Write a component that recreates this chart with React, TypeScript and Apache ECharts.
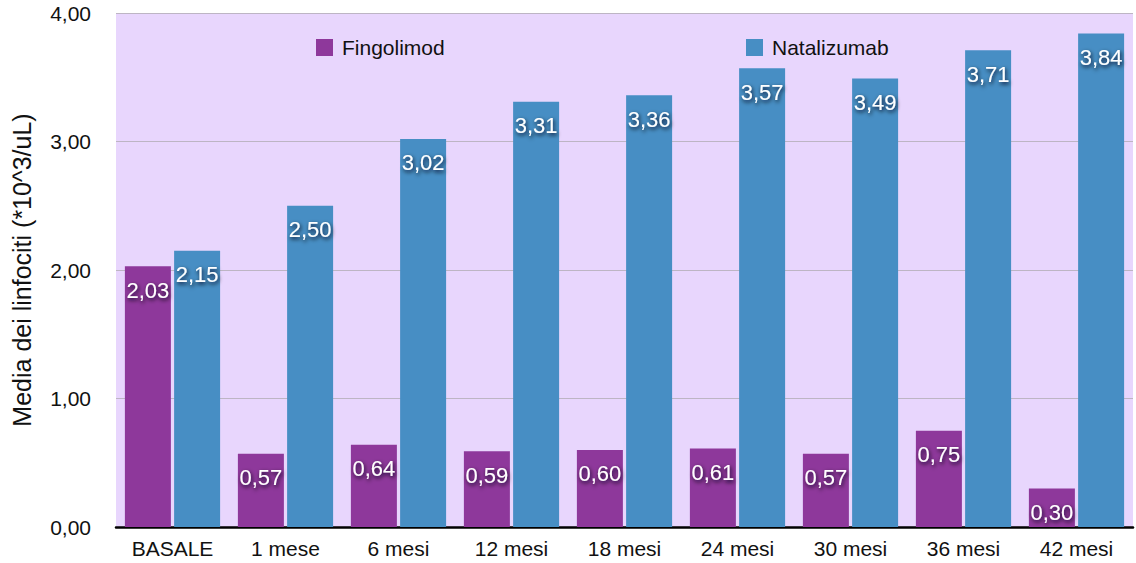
import React, { useEffect, useRef } from "react";
import * as echarts from "echarts";

const categories = ["BASALE", "1 mese", "6 mesi", "12 mesi", "18 mesi", "24 mesi", "30 mesi", "36 mesi", "42 mesi"];
const fingolimod = [2.03, 0.57, 0.64, 0.59, 0.6, 0.61, 0.57, 0.75, 0.3];
const natalizumab = [2.15, 2.5, 3.02, 3.31, 3.36, 3.57, 3.49, 3.71, 3.84];
const yTicks = { min: 0, max: 4, interval: 1 };

const FONT = "'Liberation Sans', Arial, Helvetica, sans-serif";
const fmt = (v: number) => v.toFixed(2).replace(".", ",");

const valueLabel = {
  show: true,
  position: "insideTop" as const,
  distance: 13,
  color: "#ffffff",
  fontFamily: FONT,
  fontSize: 22,
  textShadowColor: "rgba(15,5,25,0.95)",
  textShadowBlur: 4,
  textShadowOffsetX: 1,
  textShadowOffsetY: 2,
  formatter: (p: any) => fmt(p.value),
};

const legendText = { fontSize: 21, color: "#111", fontFamily: FONT, padding: [0, 0, 0, 4] };

export default function App() {
  const ref = useRef<HTMLDivElement>(null);
  useEffect(() => {
    if (!ref.current) return;
    const chart = echarts.init(ref.current, null, { renderer: "svg" });
    chart.setOption({
      animation: false,
      backgroundColor: "#ffffff",
      textStyle: { fontFamily: FONT },
      grid: {
        left: 116,
        right: 3,
        top: 13,
        bottom: 36,
        show: true,
        backgroundColor: "#e8d6fd",
        borderWidth: 0,
      },
      legend: [
        {
          data: ["Fingolimod"],
          left: 311,
          top: 32,
          itemWidth: 17,
          itemHeight: 17,
          icon: "rect",
          textStyle: legendText,
        },
        {
          data: ["Natalizumab"],
          left: 741,
          top: 32,
          itemWidth: 17,
          itemHeight: 17,
          icon: "rect",
          textStyle: legendText,
        },
      ],
      xAxis: {
        type: "category",
        data: categories,
        axisLine: { lineStyle: { color: "#000", width: 2.5 } },
        axisTick: { show: false },
        axisLabel: { fontSize: 21, color: "#111", margin: 11, fontFamily: FONT },
      },
      yAxis: {
        type: "value",
        min: yTicks.min,
        max: yTicks.max,
        interval: yTicks.interval,
        name: "Media dei linfociti (*10^3/uL)",
        nameLocation: "middle",
        nameGap: 82,
        nameTextStyle: { fontSize: 25, color: "#111", fontFamily: FONT },
        axisLine: { show: false },
        axisTick: { show: false },
        axisLabel: {
          fontSize: 21,
          color: "#111",
          margin: 25,
          fontFamily: FONT,
          formatter: (v: number) => fmt(v),
        },
        splitLine: { lineStyle: { color: "#bdb5c4", width: 1 } },
      },
      series: [
        {
          name: "Fingolimod",
          type: "bar",
          data: fingolimod,
          barWidth: 46,
          barGap: "7%",
          itemStyle: { color: "#8e389b" },
          label: valueLabel,
        },
        {
          name: "Natalizumab",
          type: "bar",
          data: natalizumab,
          barWidth: 46,
          itemStyle: { color: "#478ec4" },
          label: valueLabel,
        },
      ],
    });
    return () => chart.dispose();
  }, []);
  return (
    <div
      ref={ref}
      style={{ position: "absolute", left: 0, top: 0, width: 1136, height: 563 }}
    />
  );
}
